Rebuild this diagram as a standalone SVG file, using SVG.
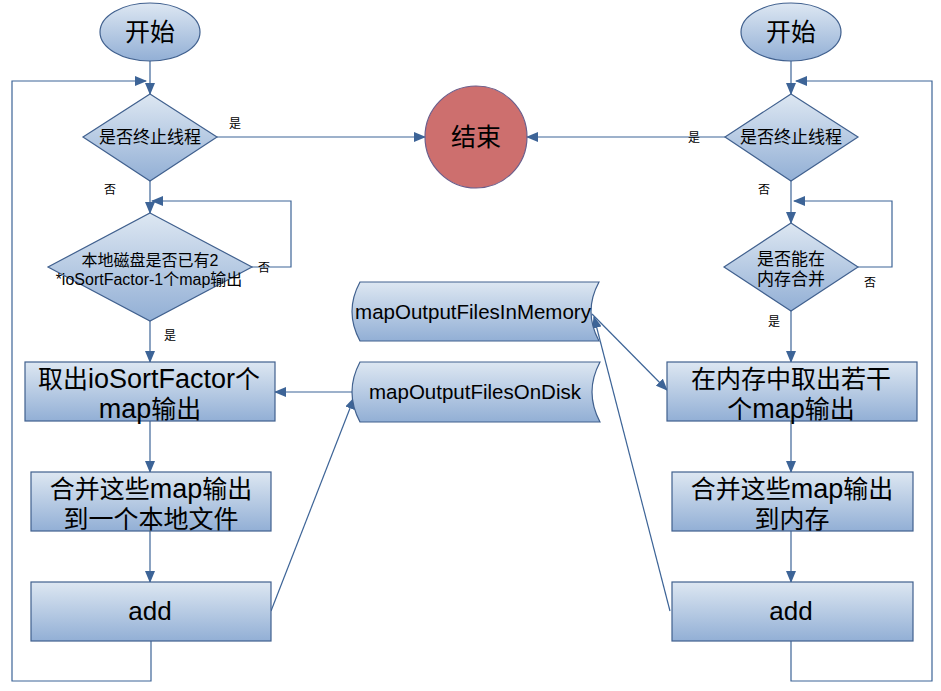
<svg xmlns="http://www.w3.org/2000/svg" width="941" height="691" viewBox="0 0 941 691">
<defs>
<linearGradient id="g" x1="0" y1="0" x2="0" y2="1">
<stop offset="0" stop-color="#dde7f2"/>
<stop offset="1" stop-color="#92afd5"/>
</linearGradient>
<marker id="ah" markerWidth="12" markerHeight="10" refX="11" refY="5" orient="auto" markerUnits="userSpaceOnUse">
<path d="M0,0 L12,5 L0,10 Z" fill="#3d6497"/>
</marker>
<style>
.sh{fill:url(#g);stroke:#40608e;stroke-width:1.2}
.c{fill:none;stroke:#3d6497;stroke-width:1.2}
.a{marker-end:url(#ah)}
.t{font-family:"Liberation Sans","Noto Sans CJK SC",sans-serif;fill:#000;text-anchor:middle}
.b{font-size:25px}
.e{font-size:27px}
.d{font-size:17px}
.dl{font-size:16px}
.l{font-size:12px}
.m{font-size:20.5px}
</style>
</defs>
<rect width="941" height="691" fill="#fff"/>
<g id="connectors">
<path class="c a" d="M150,61 V94"/>
<path class="c a" d="M151,641 V681 H12 V81 H146"/>
<path class="c a" d="M150,181 V213"/>
<path class="c a" d="M252,267 H291 V201 H152"/>
<path class="c a" d="M150,321 V362"/>
<path class="c a" d="M150,421 V472"/>
<path class="c a" d="M150,531 V582"/>
<path class="c a" d="M217,137 H425"/>
<path class="c a" d="M353,392 H275"/>
<path class="c a" d="M271,611 L354,398"/>
<path class="c a" d="M791,61 V94"/>
<path class="c a" d="M791,641 V681 H932 V81 H796"/>
<path class="c a" d="M791,181 V223"/>
<path class="c a" d="M858,267 H892 V201 H794"/>
<path class="c a" d="M791,311 V362"/>
<path class="c a" d="M791,421 V472"/>
<path class="c a" d="M791,531 V582"/>
<path class="c a" d="M725,137 H527"/>
<path class="c a" d="M592,314 L667,390"/>
<path class="c a" d="M670,611 L594,317"/>
</g>
<g id="startL"><ellipse class="sh" cx="150" cy="32" rx="50" ry="29"/><text class="t b" x="150" y="41">开始</text></g>
<g id="startR"><ellipse class="sh" cx="791" cy="32" rx="50" ry="29"/><text class="t b" x="791" y="41">开始</text></g>
<g id="end"><circle cx="476" cy="137" r="51" fill="#cd6f6e" stroke="#6b5d8a" stroke-width="1.2"/><text class="t b" x="476" y="146">结束</text></g>
<g id="decL1"><path class="sh" d="M150,94 L217,137 L150,181 L83,137 Z"/><text class="t d" x="150" y="143">是否终止线程</text></g>
<g id="decL2"><path class="sh" d="M150,213 L252,267 L150,321 L48,267 Z"/><text class="t dl" x="150" y="266">本地磁盘是否已有2</text><text class="t dl" x="149" y="285">*ioSortFactor-1个map输出</text></g>
<g id="boxL1"><rect class="sh" x="25" y="362" width="250" height="59"/><text class="t b" x="149" y="388">取出<tspan class="e">ioSortFactor</tspan>个</text><text class="t b" x="150" y="418"><tspan class="e">map</tspan>输出</text></g>
<g id="boxL2"><rect class="sh" x="31" y="472" width="240" height="59"/><text class="t b" x="151" y="498">合并这些<tspan class="e">map</tspan>输出</text><text class="t b" x="151" y="528">到一个本地文件</text></g>
<g id="addL"><rect class="sh" x="31" y="582" width="240" height="59"/><text class="t" style="font-size:26px" x="150" y="620">add</text></g>
<g id="decR1"><path class="sh" d="M791,94 L858,137 L791,181 L725,137 Z"/><text class="t d" x="791" y="143">是否终止线程</text></g>
<g id="decR2"><path class="sh" d="M791,223 L858,267 L791,311 L724,267 Z"/><text class="t d" x="791" y="265">是否能在</text><text class="t d" x="791" y="285">内存合并</text></g>
<g id="boxR1"><rect class="sh" x="667" y="362" width="250" height="59"/><text class="t b" x="791" y="388">在内存中取出若干</text><text class="t b" x="791" y="418">个<tspan class="e">map</tspan>输出</text></g>
<g id="boxR2"><rect class="sh" x="672" y="472" width="241" height="59"/><text class="t b" x="792" y="498">合并这些<tspan class="e">map</tspan>输出</text><text class="t b" x="792" y="528">到内存</text></g>
<g id="addR"><rect class="sh" x="672" y="582" width="241" height="59"/><text class="t" style="font-size:26px" x="791" y="620">add</text></g>
<g id="memStore"><path class="sh" d="M360,282 H599 Q583,311.5 599,341 H360 Q344,311.5 360,282 Z"/><text class="t m" x="473" y="319">mapOutputFilesInMemory</text></g>
<g id="diskStore"><path class="sh" d="M360,362 H600 Q584,392 600,422 H360 Q344,392 360,362 Z"/><text class="t m" x="475" y="399">mapOutputFilesOnDisk</text></g>
<g id="labels">
<text class="t l" x="235" y="128">是</text>
<text class="t l" x="694" y="142">是</text>
<text class="t l" x="110" y="194">否</text>
<text class="t l" x="764" y="194">否</text>
<text class="t l" x="264" y="272">否</text>
<text class="t l" x="870" y="287">否</text>
<text class="t l" x="170" y="340">是</text>
<text class="t l" x="774" y="326">是</text>
</g>
</svg>
